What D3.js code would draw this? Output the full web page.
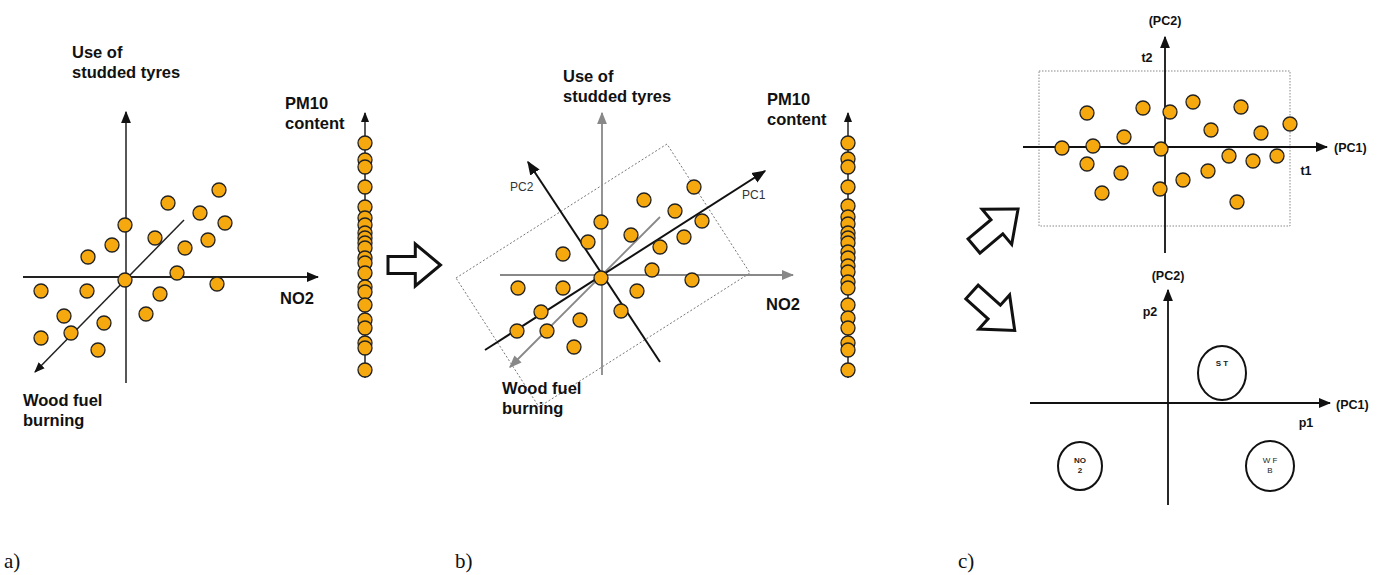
<!DOCTYPE html>
<html><head><meta charset="utf-8">
<script src="https://cdn.jsdelivr.net/npm/d3@7"></script>
<style>body{margin:0;background:#fff}</style>
</head><body>
<script>
// point coordinates in each panel's own units (origin = axis crossing)
const ptsA = [[0,0],[-84,-11],[-38,-11],[-61,-36],[-21,-43],[-84,-58],[-54,-53],[-27,-70],[0,55],[-13,35],[-37,23],[30,42],[43,77],[75,67],[94,90],[100,57],[83,40],[60,32],[52,7],[35,-14],[92,-4],[21,-34]];
const pmA = [143,160,167,187,207,218,225,233,238,243,248,258,263,273,287,292,305,320,328,343,348,370];
const ptsB = [[0,0],[93,91],[43,78],[74,67],[101,57],[0,56],[30,43],[83,41],[-13,36],[59,31],[-38,24],[51,8],[91,-2],[-83,-10],[-38,-10],[36,-13],[-60,-34],[20,-33],[-21,-42],[-84,-53],[-54,-53],[-27,-69]];
const pmB = [143,159,167,187,206,217,224,233,238,243,252,258,266,272,282,288,305,318,328,343,350,370];
const ptsC = [[-103,-1],[-78,34],[-72,1],[-78,-17],[-63,-46],[-44,-26],[-41,10],[-22,39],[-4,-2],[5,35],[-5,-42],[18,-33],[28,45],[43,-24],[46,17],[64,-9],[76,40],[88,-14],[96,14],[112,-9],[125,23],[72,-55]];
const loadings = [{label:["S T"], x:54, y:30, rx:24, ry:27, bold:true},
                  {label:["NO","2"], x:-88, y:-63, rx:22, ry:24, bold:true},
                  {label:["W F","B"], x:102, y:-63, rx:24, ry:25, bold:false}];

const W = 1384, H = 575;
const svg = d3.select('body').append('svg').attr('width', W).attr('height', H);
const defs = svg.append('defs');
function marker(id, col){
  defs.append('marker').attr('id', id).attr('viewBox','0 0 10 10').attr('refX',9).attr('refY',5)
    .attr('markerWidth',7).attr('markerHeight',7).attr('orient','auto')
    .append('path').attr('d','M0,1L10,5L0,9Z').attr('fill',col);
}
marker('ak','#111'); marker('ag','#888');
const dotFill = '#f6a90e';
const bold = 'Arial, "Liberation Sans", sans-serif';

function line(g, x1,y1,x2,y2, col, arrow, w){
  g.append('line').attr('x1',x1).attr('y1',y1).attr('x2',x2).attr('y2',y2)
    .attr('stroke',col).attr('stroke-width',w||1.8)
    .attr('marker-end', arrow ? `url(#${arrow})` : null);
}
function text(g, x, y, lines, size, opts){
  opts = opts || {};
  const t = g.append('text').attr('x',x).attr('y',y).attr('font-family',opts.family||bold)
    .attr('font-size',size).attr('font-weight',opts.weight||'bold').attr('fill',opts.fill||'#111')
    .attr('text-anchor',opts.anchor||'start');
  lines.forEach((l,i)=>t.append('tspan').attr('x',x).attr('dy',i?size*1.2:0).text(l));
}
function dots(g, data, sx, sy){
  g.selectAll(null).data(data).enter().append('circle')
    .attr('cx',d=>sx(d[0])).attr('cy',d=>sy(d[1])).attr('r',7)
    .attr('fill',dotFill).attr('stroke','#222').attr('stroke-width',1.3);
}
function pmAxis(x, vals){
  const g = svg.append('g');
  line(g, x, 378, x, 113, '#222', 'ak', 1.5);
  g.selectAll(null).data(vals).enter().append('circle')
    .attr('cx',x).attr('cy',d=>d).attr('r',7)
    .attr('fill',dotFill).attr('stroke','#222').attr('stroke-width',1.3);
}
function hollowArrow(x, y, angle, s){
  const p = [[0,-8],[26,-8],[26,-20],[50,0],[26,20],[26,8],[0,8]].map(q=>[q[0]*s,q[1]*s]);
  svg.append('path').attr('d','M'+p.join('L')+'Z')
    .attr('transform',`translate(${x},${y}) rotate(${angle})`)
    .attr('fill','#fff').attr('stroke','#111').attr('stroke-width',3).attr('stroke-linejoin','miter');
}

// ---- panel a
{
  const g = svg.append('g');
  const sx = d3.scaleLinear().domain([0,100]).range([125,225]);
  const sy = d3.scaleLinear().domain([0,100]).range([280,180]);
  line(g, 23, 277, 318, 277, '#222', 'ak');
  line(g, 126, 383, 126, 112, '#444', 'ak');
  line(g, 184, 220, 35, 372, '#222', 'ak', 1.5);
  dots(g, ptsA, sx, sy);
  text(g, 72, 58, ['Use of','studded tyres'], 16.5);
  text(g, 285, 109, ['PM10','content'], 16.5);
  text(g, 280, 304, ['NO2'], 16.5);
  text(g, 23, 406, ['Wood fuel','burning'], 16.5);
  pmAxis(365, pmA);
}
hollowArrow(388, 265, 0, 1.05);

// ---- panel b
{
  const g = svg.append('g');
  const sx = d3.scaleLinear().domain([0,100]).range([601,701]);
  const sy = d3.scaleLinear().domain([0,100]).range([278,178]);
  g.append('path').attr('d','M456,278L667,144L750,273L539,407Z')
    .attr('fill','none').attr('stroke','#777').attr('stroke-width',1).attr('stroke-dasharray','2,2');
  line(g, 500, 275, 793, 275, '#888', 'ag', 1.8);
  line(g, 602, 375, 602, 113, '#888', 'ag', 1.8);
  line(g, 660, 217, 510, 367, '#888', 'ag', 1.8);
  line(g, 485, 350, 765, 171, '#111', 'ak', 2);
  line(g, 660, 362, 528, 162, '#111', 'ak', 2);
  dots(g, ptsB, sx, sy);
  text(g, 742, 199, ['PC1'], 12, {weight:'normal', fill:'#333'});
  text(g, 510, 191, ['PC2'], 12, {weight:'normal', fill:'#333'});
  text(g, 563, 82, ['Use of','studded tyres'], 16.5);
  text(g, 767, 105, ['PM10','content'], 16.5);
  text(g, 766, 310, ['NO2'], 16.5);
  text(g, 502, 394, ['Wood fuel','burning'], 16.5);
  pmAxis(848, pmB);
}

// ---- panel c scores
{
  const g = svg.append('g');
  const sx = d3.scaleLinear().domain([0,100]).range([1165,1265]);
  const sy = d3.scaleLinear().domain([0,100]).range([147,47]);
  g.append('rect').attr('x',1039).attr('y',71).attr('width',251).attr('height',155)
    .attr('fill','none').attr('stroke','#888').attr('stroke-dasharray','1.5,1.5');
  line(g, 1023, 147, 1327, 147, '#111', 'ak');
  line(g, 1165, 253, 1165, 37, '#111', 'ak');
  dots(g, ptsC, sx, sy);
  text(g, 1165, 25, ['(PC2)'], 12.5, {anchor:'middle'});
  text(g, 1147, 62, ['t2'], 12.5, {anchor:'middle'});
  text(g, 1334, 152, ['(PC1)'], 12.5);
  text(g, 1306, 175, ['t1'], 12.5, {anchor:'middle'});
}
// ---- panel c loadings
{
  const g = svg.append('g');
  const sx = d3.scaleLinear().domain([0,100]).range([1168,1268]);
  const sy = d3.scaleLinear().domain([0,100]).range([403,303]);
  line(g, 1030, 403, 1330, 403, '#111', 'ak');
  line(g, 1168, 505, 1168, 290, '#111', 'ak');
  text(g, 1168, 280, ['(PC2)'], 12.5, {anchor:'middle'});
  text(g, 1150, 316, ['p2'], 12.5, {anchor:'middle'});
  text(g, 1336, 409, ['(PC1)'], 12.5);
  text(g, 1306, 427, ['p1'], 12.5, {anchor:'middle'});
  loadings.forEach(d=>{
    g.append('ellipse').attr('cx',sx(d.x)).attr('cy',sy(d.y)).attr('rx',d.rx).attr('ry',d.ry)
      .attr('fill','none').attr('stroke','#111').attr('stroke-width',2);
    const top = d.label.length > 1 ? sy(d.y) - 3 : sy(d.y) - 7;
    text(g, sx(d.x), top, d.label, 8, {anchor:'middle', weight:d.bold?'bold':'normal', fill:'#222'});
  });
}
hollowArrow(974, 246, -40, 1.15);
hollowArrow(972, 292, 42, 1.15);

// panel letters
const serif = 'Garamond, "Liberation Serif", "DejaVu Serif", serif';
[['a)',4],['b)',455],['c)',958]].forEach(([l,x])=>text(svg, x, 568, [l], 21, {family:serif, weight:'normal'}));
</script>
</body></html>
